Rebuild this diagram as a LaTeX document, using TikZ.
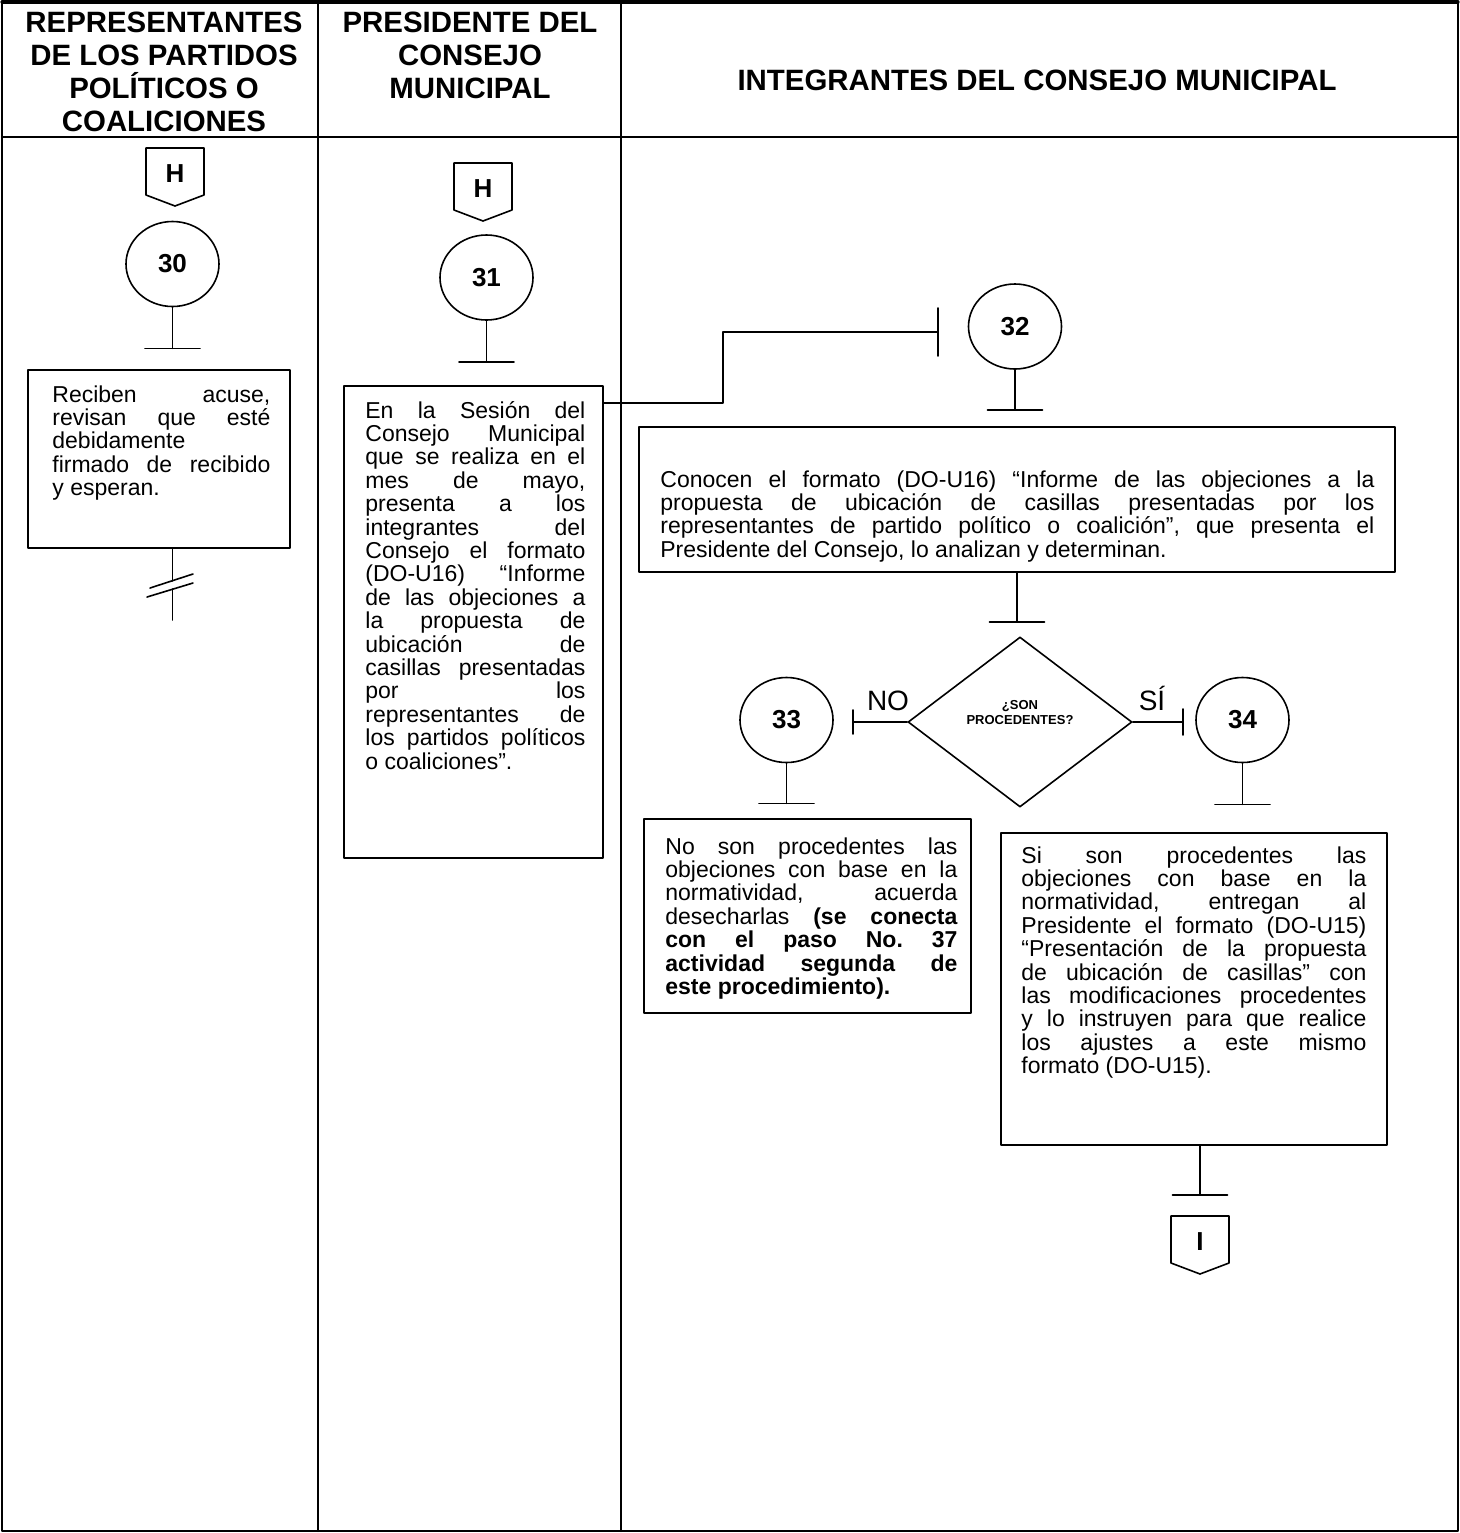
\documentclass[tikz,border=0pt]{standalone}
\usepackage{fontspec}
\setmainfont{Liberation Sans}
\usetikzlibrary{shapes.geometric}

\newcommand{\bodyfont}{\fontsize{11.5}{11.7}\selectfont\frenchspacing\tolerance=10000\hbadness=10000\hyphenpenalty=10000}
% off-page connector: name, x, top y, letter
\newcommand{\offpage}[4]{%
\draw [flow] ({#2-29},#3)-- ({#2+29},#3)-- ({#2+29},{#3+47})-- (#2,{#3+58})-- ({#2-29},{#3+47})-- cycle;
\node [letter] (#1) at (#2,{#3+26}) {#4};}
% stem with cross bar: start, length, name of its end
\newcommand{\stem}[3]{%
\draw [flow] (#1)-- ++(0,#2) coordinate (#3);
\draw [flow] ([xshift=-13.75pt]#3)-- ([xshift=13.75pt]#3);}

\begin{document}
\begin{tikzpicture}[line cap=round,line join=round,x=0.5pt,y=-0.5pt,
lane/.style={line width=1.1pt},
flow/.style={line width=0.8pt},
frame/.style={draw,line width=0.9pt,inner sep=0pt},
stepcircle/.style={draw,ellipse,line width=0.8pt,minimum width=46.5pt,minimum height=42.5pt,inner sep=0pt,font=\fontsize{13}{15}\selectfont\bfseries},
txt/.style={inner sep=0pt,align=justify,font=\bodyfont},
head/.style={inner sep=0pt,align=center,font=\fontsize{14.7}{16.5}\selectfont\bfseries},
letter/.style={inner sep=0pt,font=\fontsize{13}{15}\selectfont\bfseries},
answer/.style={inner sep=0pt,anchor=base,font=\fontsize{14}{16}\selectfont},
decision/.style={draw,diamond,line width=0.8pt,minimum width=112pt,minimum height=85pt,inner sep=0pt}]
\useasboundingbox (0,0) rectangle (1460,1533);
% lanes
\draw [lane] (2,2) rectangle (1458,1531);
\draw [line width=1.6pt] (2,2)-- (1458,2);
\draw [lane] (2,137)-- (1458,137);
\draw [lane] (318,2)-- (318,1531);
\draw [lane] (621,2)-- (621,1531);
\node [head] (hd1) at (164,72) {REPRESENTANTES\\DE LOS PARTIDOS\\POLÍTICOS O\\COALICIONES};
\node [head] (hd2) at (470,55) {PRESIDENTE DEL\\CONSEJO\\MUNICIPAL};
\node [head] (hd3) at (1037,80) {INTEGRANTES DEL CONSEJO MUNICIPAL};
% connectors H and I
\offpage{pH1}{175}{148}{H}
\offpage{pH2}{483}{163}{H}
\offpage{pI}{1200}{1216}{I}
% steps
\node [stepcircle] (c30) at (172.5,264) {30};
\node [stepcircle] (c31) at (486.5,277.5) {31};
\node [stepcircle] (c32) at (1015,326.5) {32};
\node [stepcircle] (c33) at (786.5,720) {33};
\node [stepcircle] (c34) at (1242.5,720) {34};
\stem{c30.south}{41}{s30}
\stem{c31.south}{41}{s31}
\stem{c32.south}{40}{s32}
\stem{c33.south}{40}{s33}
\stem{c34.south}{41}{s34}
% activity boxes
\node [frame,minimum width=131pt,minimum height=89pt] (b30) at (159,459) {};
\node [frame,minimum width=129.5pt,minimum height=236pt] (b31) at (473.5,622) {};
\node [frame,minimum width=378pt,minimum height=72.5pt] (b32) at (1017,499.5) {};
\node [frame,minimum width=163.5pt,minimum height=97pt] (b33) at (807.5,916) {};
\node [frame,minimum width=193pt,minimum height=156pt] (b34) at (1194,989) {};
\node [txt,text width=109pt,anchor=base west] (t30) at (52,402) {Reciben acuse,\linebreak revisan que esté\linebreak debidamente\linebreak firmado de recibido\linebreak y esperan.};
\node [txt,text width=110pt,anchor=base west] (t31) at (365,418) {En la Sesión del\linebreak Consejo Municipal\linebreak que se realiza en el\linebreak mes de mayo,\linebreak presenta a los\linebreak integrantes del\linebreak Consejo el formato\linebreak (DO-U16) “Informe\linebreak de las objeciones a\linebreak la propuesta de\linebreak ubicación de\linebreak casillas presentadas\linebreak por los\linebreak representantes de\linebreak los partidos políticos\linebreak o coaliciones”.};
\node [txt,text width=357pt,anchor=base west] (t32) at (660,487) {Conocen el formato (DO-U16) “Informe de las objeciones a la\linebreak propuesta de ubicación de casillas presentadas por los\linebreak representantes de partido político o coalición”, que presenta el\linebreak Presidente del Consejo, lo analizan y determinan.};
\node [txt,text width=146pt,anchor=base west] (t33) at (665,854) {No son procedentes las\linebreak objeciones con base en la\linebreak normatividad, acuerda\linebreak desecharlas \textbf{(se conecta\linebreak con el paso No. 37\linebreak actividad segunda de\linebreak este procedimiento).}};
\node [txt,text width=172.5pt,anchor=base west] (t34) at (1021,863) {Si son procedentes las\linebreak objeciones con base en la\linebreak normatividad, entregan al\linebreak Presidente el formato (DO-U15)\linebreak “Presentación de la propuesta\linebreak de ubicación de casillas” con\linebreak las modificaciones procedentes\linebreak y lo instruyen para que realice\linebreak los ajustes a este mismo\linebreak formato (DO-U15).};
% box 30 goes on later (break)
\coordinate (k1) at (172.5,581);
\coordinate (k2) at (172.5,589);
\coordinate (k3) at (172.5,620);
\draw [flow] (b30.south -| c30)-- (k1);
\draw [flow] (k2)-- (k3);
\draw [flow] (150,588)-- (193,574);
\draw [flow] (147,597)-- (193,583);
% box 31 to step 32
\coordinate (j32) at (938,332);
\draw [flow] ([yshift=-9pt]b31.north east) -| (723,332)-- (j32);
\draw [flow] ([yshift=12pt]j32)-- ([yshift=-12pt]j32);
% decision
\stem{b32.south}{49}{s32b}
\node [decision] (dq) at (1020,722) {};
\node [inner sep=0pt,align=center,font=\fontsize{6.5}{7.5}\selectfont\bfseries] (dqt) at (1020,713) {¿SON\\PROCEDENTES?};
\coordinate (jn) at (853,722);
\coordinate (js) at (1183,722);
\draw [flow] (dq.west)-- (jn);
\draw [flow] ([yshift=6pt]jn)-- ([yshift=-6pt]jn);
\draw [flow] (dq.east)-- (js);
\draw [flow] ([yshift=6.5pt]js)-- ([yshift=-6.5pt]js);
\node [answer] (no) at (888,710) {NO};
\node [answer] (si) at (1152,710) {SÍ};
% box 34 to I
\stem{pI |- b34.south}{49}{s34b}
\end{tikzpicture}
\end{document}
